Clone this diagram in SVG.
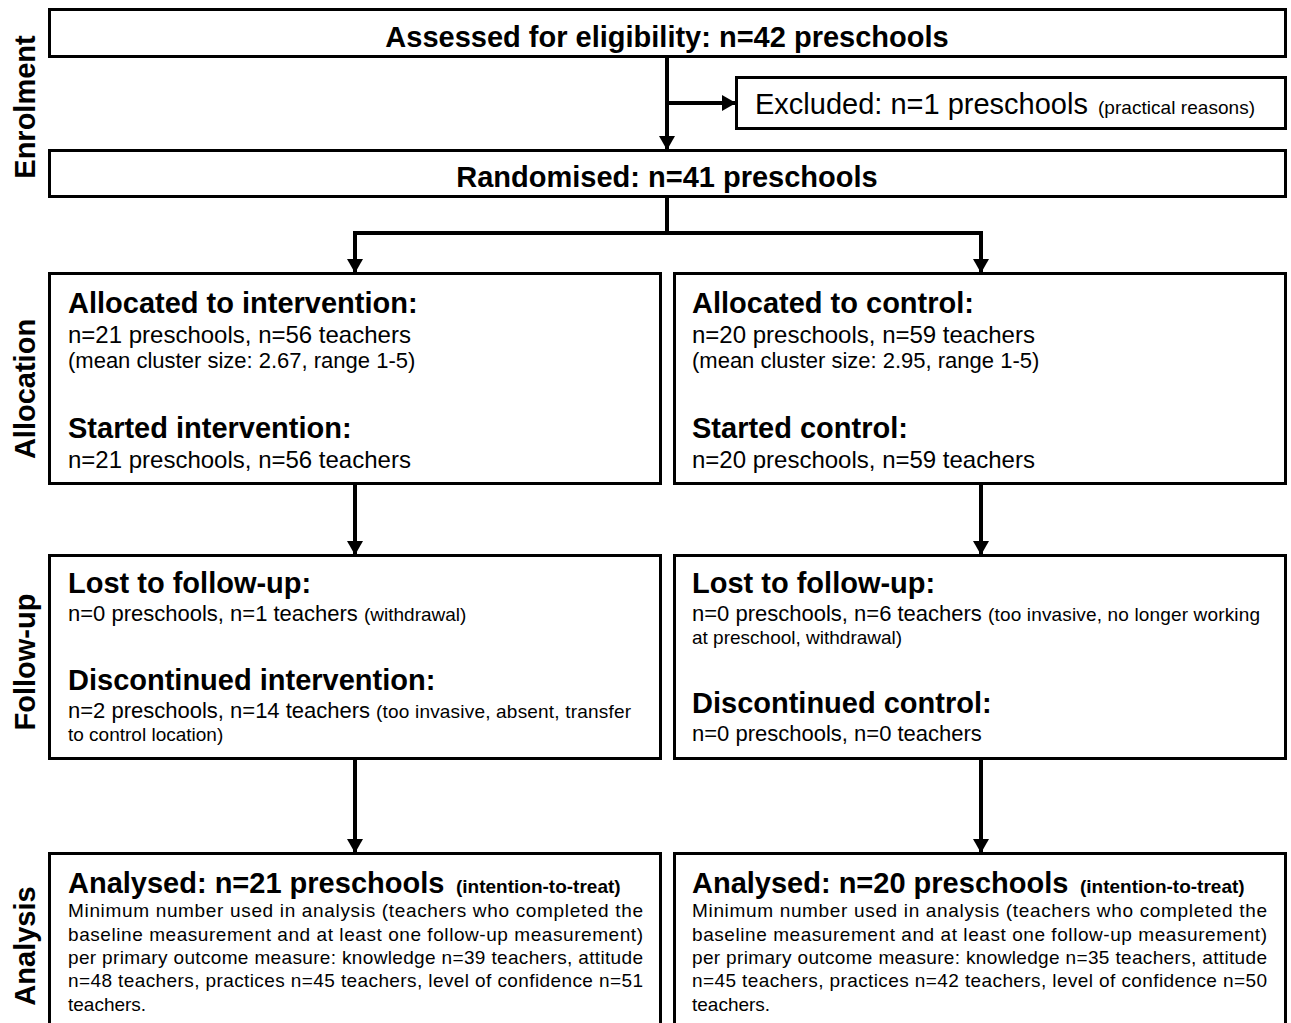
<svg xmlns="http://www.w3.org/2000/svg" width="1291" height="1023" viewBox="0 0 1291 1023">
<style>
text{font-family:"Liberation Sans",Arial,Helvetica,sans-serif;fill:#000}
.box{fill:#fff;stroke:#000;stroke-width:3}
.b{font-weight:bold;font-size:29px}
.r{font-size:24px}
.rf{font-size:22px}
.r29{font-size:29px}
.s{font-size:22px}
.p{font-size:19px}
.pb{font-size:19px;font-weight:bold}
.side{font-weight:bold;font-size:29px;text-anchor:middle}
.c{text-anchor:middle}
.con{fill:none;stroke:#000;stroke-width:4;stroke-linejoin:miter}
</style>
<defs>
<marker id="ah" viewBox="0 0 14 16" refX="14" refY="8" markerWidth="14" markerHeight="16" markerUnits="userSpaceOnUse" orient="auto">
<path d="M0,0 L14,8 L0,16 z" fill="#000"/>
</marker>
</defs>
<rect width="1291" height="1023" fill="#fff"/>

<g id="labels">
<text class="side" transform="translate(35,107) rotate(-90)">Enrolment</text>
<text class="side" transform="translate(35,389) rotate(-90)">Allocation</text>
<text class="side" transform="translate(35,662) rotate(-90)">Follow-up</text>
<text class="side" transform="translate(35,946) rotate(-90)">Analysis</text>
</g>

<g id="connectors">
<path class="con" d="M667,57 V150" marker-end="url(#ah)"/>
<path class="con" d="M667,103 H736" marker-end="url(#ah)"/>
<path class="con" d="M667,197 V233"/>
<path class="con" d="M669,233 H355 V273" marker-end="url(#ah)"/>
<path class="con" d="M665,233 H981 V273" marker-end="url(#ah)"/>
<path class="con" d="M355,484 V555" marker-end="url(#ah)"/>
<path class="con" d="M981,484 V555" marker-end="url(#ah)"/>
<path class="con" d="M355,759 V853" marker-end="url(#ah)"/>
<path class="con" d="M981,759 V853" marker-end="url(#ah)"/>
</g>

<g id="assessed">
<rect class="box" x="49.5" y="9.5" width="1236" height="47"/>
<text class="b c" x="667" y="47">Assessed for eligibility: n=42 preschools</text>
</g>

<g id="excluded">
<rect class="box" x="736.5" y="77.5" width="549" height="51"/>
<text class="r29" x="755" y="114">Excluded: n=1 preschools</text>
<text class="p" x="1098" y="114" textLength="157" lengthAdjust="spacing">(practical reasons)</text>
</g>

<g id="randomised">
<rect class="box" x="49.5" y="150.5" width="1236" height="46"/>
<text class="b c" x="667" y="187">Randomised: n=41 preschools</text>
</g>

<g id="alloc-intervention">
<rect class="box" x="49.5" y="273.5" width="611" height="210"/>
<text class="b" x="68" y="313">Allocated to intervention:</text>
<text class="r" x="68" y="343">n=21 preschools, n=56 teachers</text>
<text class="s" x="68" y="368">(mean cluster size: 2.67, range 1-5)</text>
<text class="b" x="68" y="438">Started intervention:</text>
<text class="r" x="68" y="468">n=21 preschools, n=56 teachers</text>
</g>

<g id="alloc-control">
<rect class="box" x="674.5" y="273.5" width="611" height="210"/>
<text class="b" x="692" y="313">Allocated to control:</text>
<text class="r" x="692" y="343">n=20 preschools, n=59 teachers</text>
<text class="s" x="692" y="368">(mean cluster size: 2.95, range 1-5)</text>
<text class="b" x="692" y="438">Started control:</text>
<text class="r" x="692" y="468">n=20 preschools, n=59 teachers</text>
</g>

<g id="followup-intervention">
<rect class="box" x="49.5" y="555.5" width="611" height="203"/>
<text class="b" x="68" y="593">Lost to follow-up:</text>
<text class="rf" x="68" y="621">n=0 preschools, n=1 teachers</text>
<text class="p" x="364" y="621">(withdrawal)</text>
<text class="b" x="68" y="690">Discontinued intervention:</text>
<text class="rf" x="68" y="718">n=2 preschools, n=14 teachers</text>
<text class="p" x="376" y="718" textLength="255" lengthAdjust="spacing">(too invasive, absent, transfer</text>
<text class="p" x="68" y="741">to control location)</text>
</g>

<g id="followup-control">
<rect class="box" x="674.5" y="555.5" width="611" height="203"/>
<text class="b" x="692" y="593">Lost to follow-up:</text>
<text class="rf" x="692" y="621">n=0 preschools, n=6 teachers</text>
<text class="p" x="988" y="621" textLength="272" lengthAdjust="spacing">(too invasive, no longer working</text>
<text class="p" x="692" y="644">at preschool, withdrawal)</text>
<text class="b" x="692" y="713">Discontinued control:</text>
<text class="rf" x="692" y="741">n=0 preschools, n=0 teachers</text>
</g>

<g id="analysis-intervention">
<rect class="box" x="49.5" y="853.5" width="611" height="180"/>
<text class="b" x="68" y="893">Analysed: n=21 preschools</text>
<text class="pb" x="456" y="893">(intention-to-treat)</text>
<text class="p" x="68" y="917" textLength="575" lengthAdjust="spacing">Minimum number used in analysis (teachers who completed the</text>
<text class="p" x="68" y="941" textLength="575" lengthAdjust="spacing">baseline measurement and at least one follow-up measurement)</text>
<text class="p" x="68" y="964" textLength="575" lengthAdjust="spacing">per primary outcome measure: knowledge n=39 teachers, attitude</text>
<text class="p" x="68" y="987" textLength="575" lengthAdjust="spacing">n=48 teachers, practices n=45 teachers, level of confidence n=51</text>
<text class="p" x="68" y="1011">teachers.</text>
</g>

<g id="analysis-control">
<rect class="box" x="674.5" y="853.5" width="611" height="180"/>
<text class="b" x="692" y="893">Analysed: n=20 preschools</text>
<text class="pb" x="1080" y="893">(intention-to-treat)</text>
<text class="p" x="692" y="917" textLength="575" lengthAdjust="spacing">Minimum number used in analysis (teachers who completed the</text>
<text class="p" x="692" y="941" textLength="575" lengthAdjust="spacing">baseline measurement and at least one follow-up measurement)</text>
<text class="p" x="692" y="964" textLength="575" lengthAdjust="spacing">per primary outcome measure: knowledge n=35 teachers, attitude</text>
<text class="p" x="692" y="987" textLength="575" lengthAdjust="spacing">n=45 teachers, practices n=42 teachers, level of confidence n=50</text>
<text class="p" x="692" y="1011">teachers.</text>
</g>
</svg>
